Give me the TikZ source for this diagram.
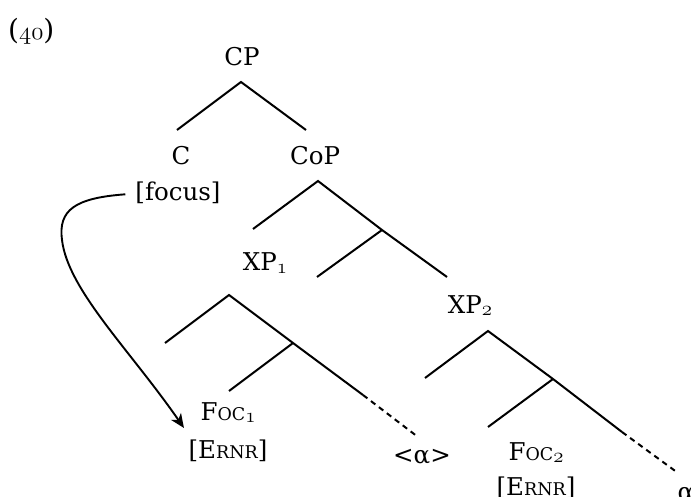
\documentclass[tikz,border=0pt]{standalone}
\usepackage{fontspec}
\setmainfont{DejaVu Serif}
\usetikzlibrary{arrows.meta}
\newcommand{\osnum}[2]{{\fontsize{#1}{#1}\usefont{OML}{cmm}{m}{it}#2}}
\newcommand{\osub}[1]{\raisebox{-2.5pt}{\osnum{22}{#1}}}
\newcommand{\fsc}[1]{{\fontsize{17.5}{17.5}\selectfont #1}}
\newcommand{\ernr}{[E\raisebox{-0.5pt}{\fsc{RNR}}]}
\tikzset{
  lbl/.style={inner sep=0pt, anchor=base, font=\fontsize{24.5}{29}\selectfont},
  branch/.style={line width=2pt},
  trace/.style={line width=2pt, dash pattern=on 5.5pt off 4.5pt},
  mover/.style={line width=1.9pt, -{Stealth[length=14pt,width=12pt,inset=4pt]}}
}
\begin{document}
\begin{tikzpicture}[x=1pt,y=-1pt]
\useasboundingbox (0,0) rectangle (691,497);
% labels
\node[lbl, anchor=base west, font=\fontsize{28}{32}\selectfont] (ex) at (8,40) {(\osnum{34}{40})};
\node[lbl] (cp) at (242,66) {CP};
\node[lbl] (c) at (181,165) {C};
\node[lbl] (focus) at (178,201) {[focus]};
\node[lbl] (cop) at (315,165) {CoP};
\node[lbl] (xp1) at (265,271) {XP\osub{1}};
\node[lbl] (xp2) at (470,313) {XP\osub{2}};
\node[lbl] (foc1) at (228,420) {F\fsc{OC}\osub{1}};
\node[lbl] (e1) at (228,458) {\ernr};
\node[lbl] (alpha1) at (422,463) {<α>};
\node[lbl] (foc2) at (536,460) {F\fsc{OC}\osub{2}};
\node[lbl] (e2) at (536,495) {\ernr};
\node[lbl] (alpha2) at (686,500) {α};
% tree coordinates
\coordinate (cpA) at (241,82);
\coordinate (cpL) at (177,130);
\coordinate (cpR) at (306,130);
\coordinate (copA) at (318,181);
\coordinate (copL) at (253,229);
\coordinate (copB) at (382,230);
\coordinate (copBL) at (317,277);
\coordinate (copR) at (447,277);
\coordinate (x1A) at (229,295);
\coordinate (x1L) at (165,343);
\coordinate (x1B) at (293,343);
\coordinate (x1BL) at (229,391);
\coordinate (x1S) at (363,395);
\coordinate (x1D) at (418,437);
\coordinate (x2A) at (488,331);
\coordinate (x2L) at (425,378);
\coordinate (x2B) at (553,379);
\coordinate (x2BL) at (488,427);
\coordinate (x2S) at (622,432);
\coordinate (x2D) at (678,473);
% branches
\draw[branch] (cpL) -- (cpA) -- (cpR);
\draw[branch] (copL) -- (copA) -- (copB) -- (copR);
\draw[branch] (copB) -- (copBL);
\draw[branch] (x1L) -- (x1A) -- (x1B) -- (x1S);
\draw[branch] (x1B) -- (x1BL);
\draw[trace] (x1S) -- (x1D);
\draw[branch] (x2L) -- (x2A) -- (x2B) -- (x2S);
\draw[branch] (x2B) -- (x2BL);
\draw[trace] (x2S) -- (x2D);
% movement arrow
\coordinate (arrS) at ([xshift=-10pt,yshift=-1pt]focus.west);
\coordinate (arrM) at (62,240);
\coordinate (arrE) at (184,428);
\draw[mover] (arrS) .. controls (75,198) and (58,210) .. (arrM)
  .. controls (68,290) and (130,350) .. (arrE);
\end{tikzpicture}
\end{document}
